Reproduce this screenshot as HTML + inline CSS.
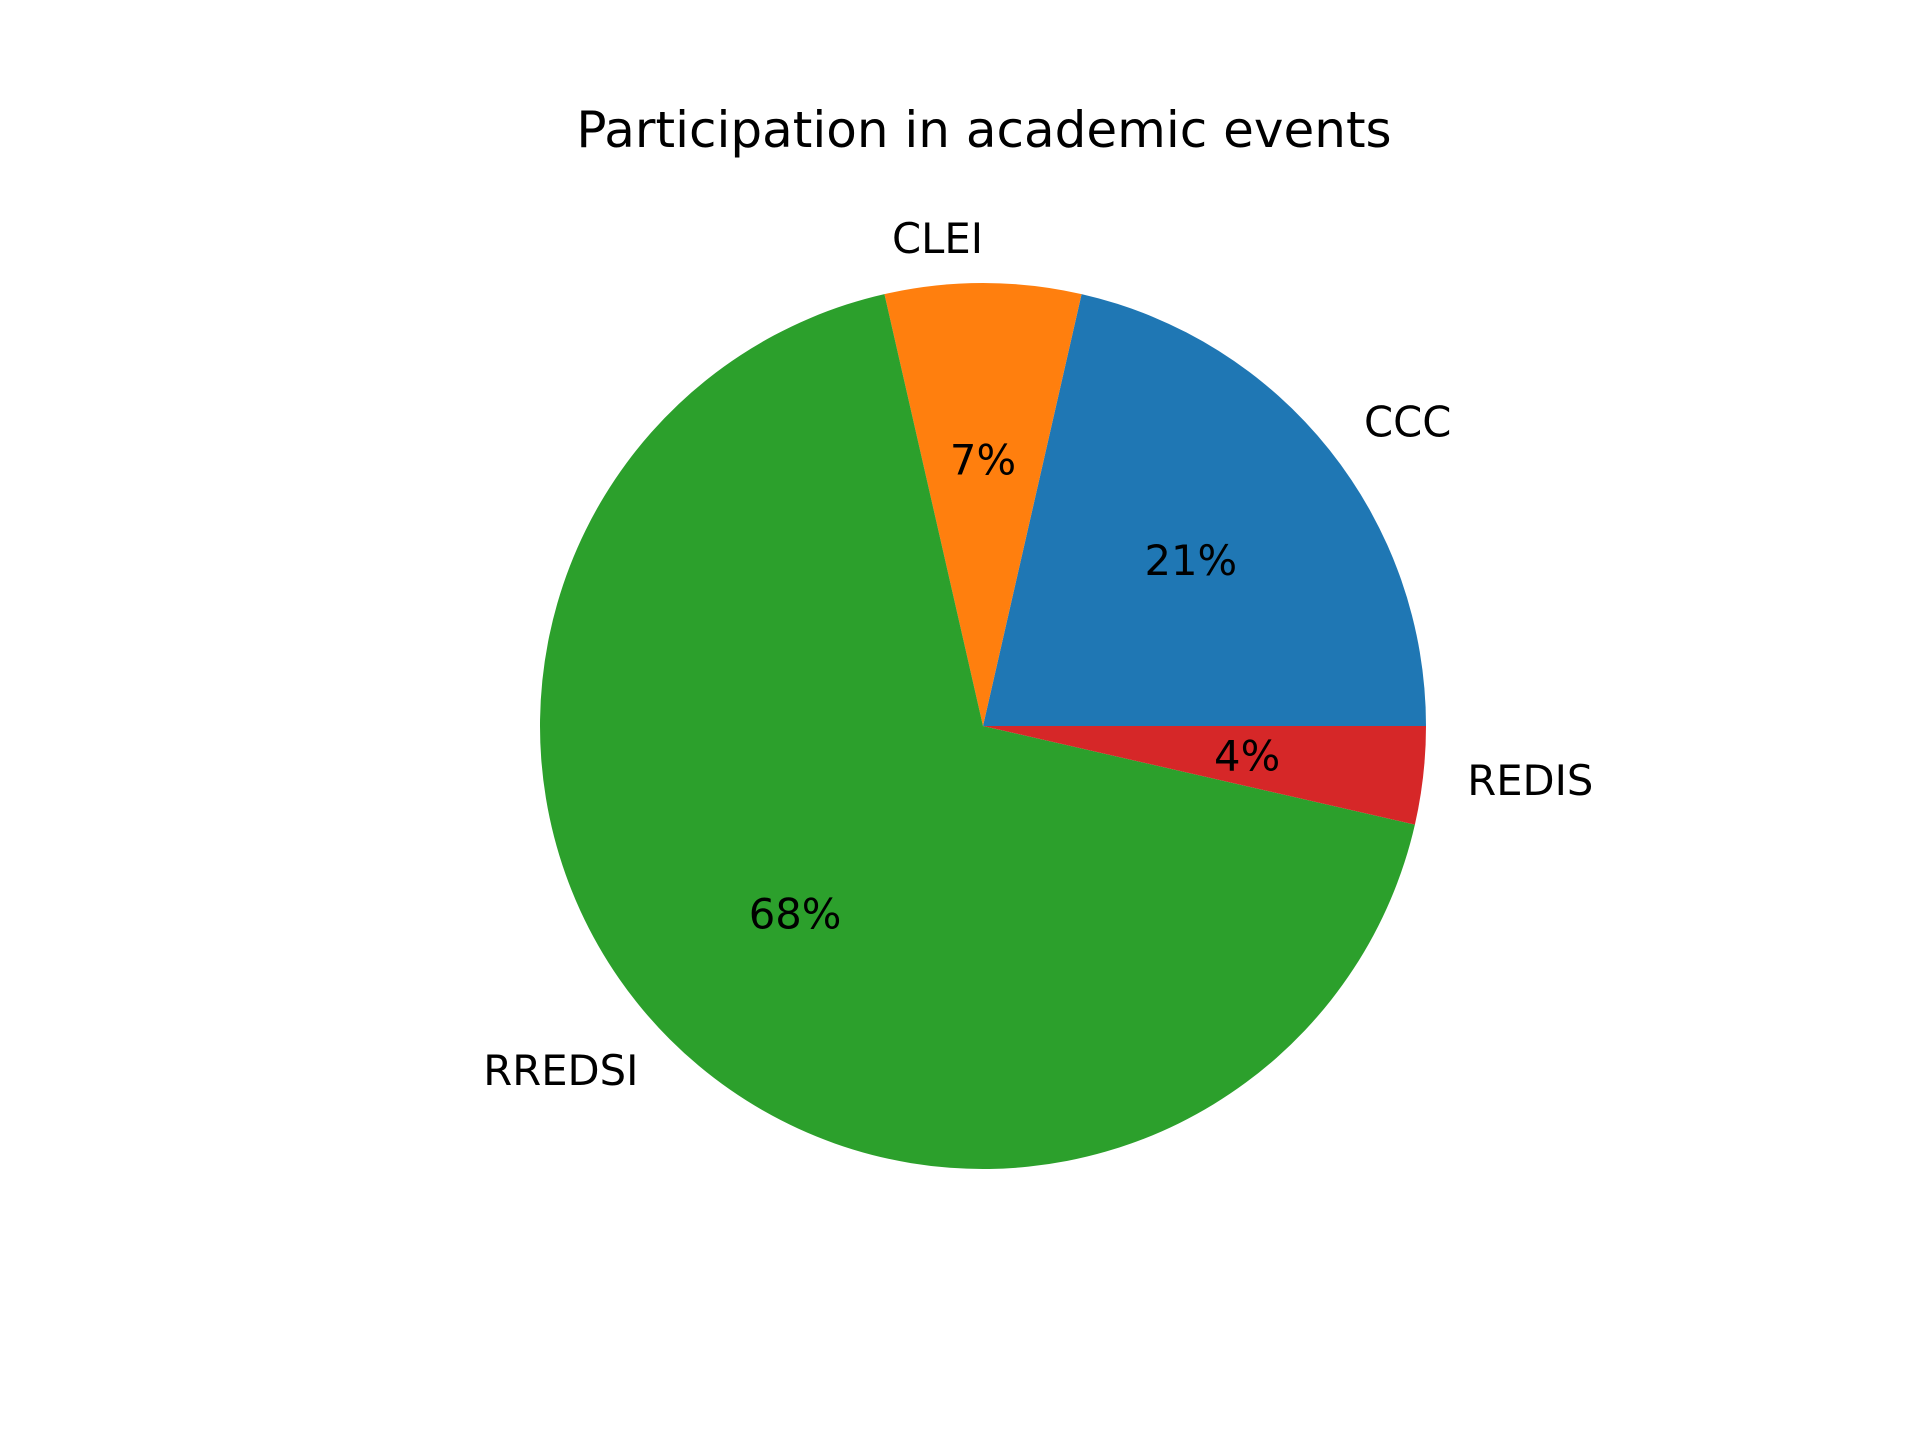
<!DOCTYPE html>
<html><head><meta charset="utf-8"><style>
body{margin:0;background:#fff}
svg{display:block}
text{font-family:"DejaVu Sans","Liberation Sans",sans-serif;fill:#000}
</style></head><body>
<svg id="chart" width="1920" height="1440" viewBox="0 0 1920 1440" xmlns="http://www.w3.org/2000/svg">
<rect width="1920" height="1440" fill="#fff"/>
<text x="984" y="147" font-size="50" text-anchor="middle">Participation in academic events</text>
<g id="slices"></g>
<g id="labels"></g>
</svg>
<script>
const categories = ["CCC", "CLEI", "RREDSI", "REDIS"];
const values = [6, 2, 19, 1];
const colors = ["#1f77b4", "#ff7f0e", "#2ca02c", "#d62728"];
const cx = 983, cy = 726, r = 443;
const ns = "http://www.w3.org/2000/svg";
const total = values.reduce((a, b) => a + b, 0);
const gS = document.getElementById('slices');
const gL = document.getElementById('labels');
function pt(a, rr) { return [cx + rr * Math.cos(a), cy - rr * Math.sin(a)]; }
let start = 0;
values.forEach((v, i) => {
  const sweep = v / total * 2 * Math.PI;
  const end = start + sweep;
  const [x1, y1] = pt(start, r), [x2, y2] = pt(end, r);
  const large = sweep > Math.PI ? 1 : 0;
  const p = document.createElementNS(ns, 'path');
  p.setAttribute('d', `M${cx},${cy} L${x1},${y1} A${r},${r} 0 ${large} 0 ${x2},${y2} Z`);
  p.setAttribute('fill', colors[i]);
  
  
  gS.appendChild(p);
  const mid = start + sweep / 2;
  const [lx, ly] = pt(mid, r * 1.1);
  const t = document.createElementNS(ns, 'text');
  t.textContent = categories[i];
  t.setAttribute('x', lx);
  t.setAttribute('y', ly);
  t.setAttribute('font-size', '41.7');
  t.setAttribute('dominant-baseline', 'central');
  t.setAttribute('text-anchor', Math.cos(mid) > 1e-9 ? 'start' : 'end');
  
  
  gL.appendChild(t);
  const [px, py] = pt(mid, r * 0.6);
  const q = document.createElementNS(ns, 'text');
  q.textContent = Math.round(v / total * 100) + '%';
  q.setAttribute('x', px);
  q.setAttribute('y', py);
  q.setAttribute('font-size', '41.7');
  q.setAttribute('dominant-baseline', 'central');
  q.setAttribute('text-anchor', 'middle');
  
  
  gL.appendChild(q);
  start = end;
});
</script>
</body></html>
